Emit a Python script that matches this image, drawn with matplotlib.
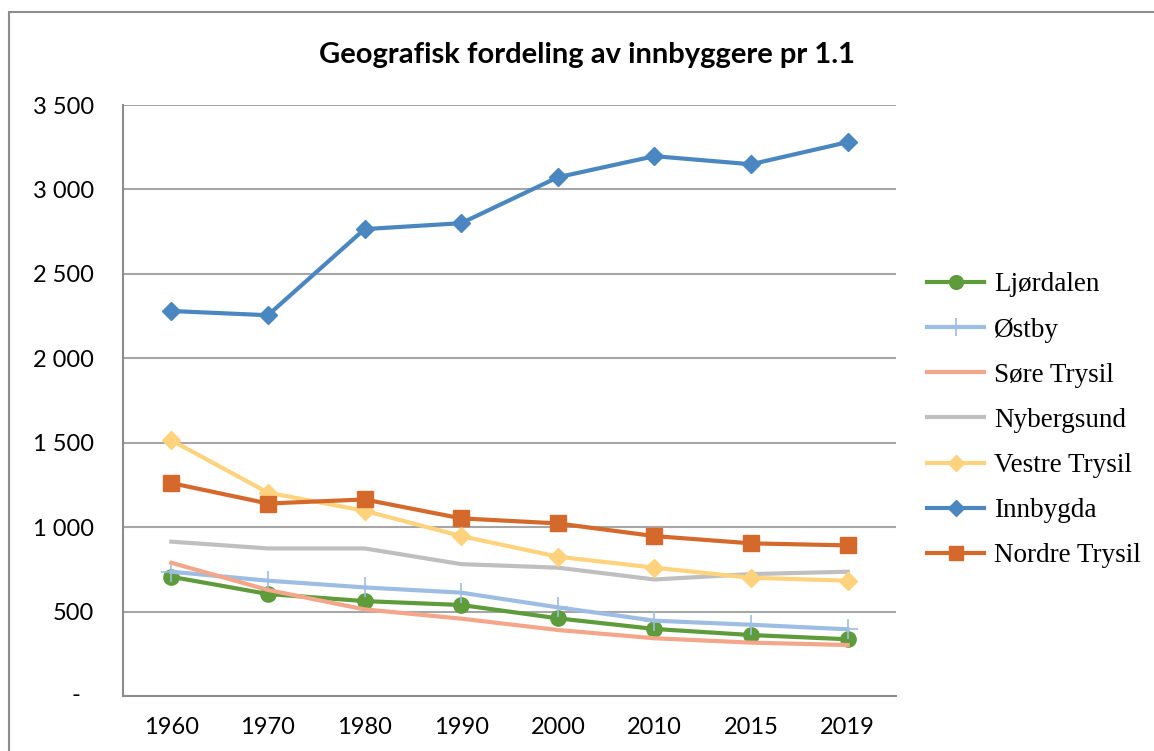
import numpy as np
import matplotlib
matplotlib.use("Agg")
import matplotlib.pyplot as plt
from matplotlib.patches import Rectangle
from matplotlib.ticker import FuncFormatter

years = ["1960", "1970", "1980", "1990", "2000", "2010", "2015", "2019"]

ljordalen = [706, 604, 562, 539, 460, 397, 361, 336]
ostby = [736, 683, 643, 612, 525, 446, 422, 395]
sore_trysil = [789, 628, 513, 458, 391, 342, 316, 302]
nybergsund = [914, 874, 874, 781, 760, 690, 722, 736]
vestre_trysil = [1515, 1204, 1097, 947, 825, 760, 700, 683]
innbygda = [2280, 2255, 2765, 2800, 3072, 3197, 3149, 3280]
nordre_trysil = [1261, 1140, 1164, 1052, 1022, 947, 904, 892]

series = [
    ("Ljørdalen", ljordalen, "#5e9b3b", "o", 11),
    ("Østby", ostby, "#9dbde3", "+", 14),
    ("Søre Trysil", sore_trysil, "#f3a68a", None, 0),
    ("Nybergsund", nybergsund, "#bfbfbf", None, 0),
    ("Vestre Trysil", vestre_trysil, "#ffd27e", "D", 9.5),
    ("Innbygda", innbygda, "#4a86c0", "D", 9.5),
    ("Nordre Trysil", nordre_trysil, "#d4692b", "s", 11),
]

W, H = 1154, 751
fig = plt.figure(figsize=(W / 100, H / 100), dpi=100)
ax = fig.add_axes([123 / W, 1 - 696 / H, (896 - 123) / W, (696 - 105) / H])

x = np.arange(len(years))
for name, vals, col, mk, ms in series:
    if mk == "+":
        ax.plot(x, vals, color=col, lw=3, marker=mk, ms=ms, mew=1.2, label=name)
    elif mk is None:
        ax.plot(x, vals, color=col, lw=3, label=name)
    else:
        ax.plot(x, vals, color=col, lw=3, marker=mk, ms=ms, mec=col, label=name)

ax.set_xlim(-0.5, len(years) - 0.5)
ax.set_ylim(0, 3500)
ax.set_yticks(np.arange(0, 3501, 500))
ax.set_xticks(x)
ax.set_xticklabels(years)


def fmt(v, pos):
    if v == 0:
        return ""
    return "{:,.0f}".format(v).replace(",", " ")


ax.yaxis.set_major_formatter(FuncFormatter(fmt))
ax.grid(axis="y", color="#a6a6a6", lw=1.5)
ax.set_axisbelow(True)
for s in ["top", "right"]:
    ax.spines[s].set_visible(False)
for s in ["left", "bottom"]:
    ax.spines[s].set_color("#8c8c8c")
    ax.spines[s].set_linewidth(1.5)
ax.tick_params(length=0, labelsize=17)
ax.tick_params(axis="y", pad=21)
ax.tick_params(axis="x", pad=15)
for lbl in ax.get_xticklabels() + ax.get_yticklabels():
    lbl.set_fontfamily("Lato")

# zero label shown as a dash
ax.annotate("-", xy=(0, 0), xycoords=("axes fraction", "data"),
            xytext=(-47, 0), textcoords="offset pixels",
            ha="center", va="center", fontsize=17, family="Lato")

fig.text(587 / W, 1 - 55 / H, "Geografisk fordeling av innbyggere pr 1.1",
         ha="center", va="center", fontsize=21, fontweight="bold", family="Lato")

fig.legend(loc="upper left", bbox_to_anchor=(903 / W, 1 - 248 / H),
           frameon=False, prop={"family": "Liberation Serif", "size": 19.5},
           handlelength=2.1, labelspacing=0.745, handletextpad=0.37,
           markerscale=0.9)

fig.patches.append(Rectangle((9 / W, -0.1), 1.2, 1 - 12 / H + 0.1,
                             transform=fig.transFigure, fill=False,
                             ec="#8c8c8c", lw=1.5))

fig.savefig("out.png", dpi=100, facecolor="white")
